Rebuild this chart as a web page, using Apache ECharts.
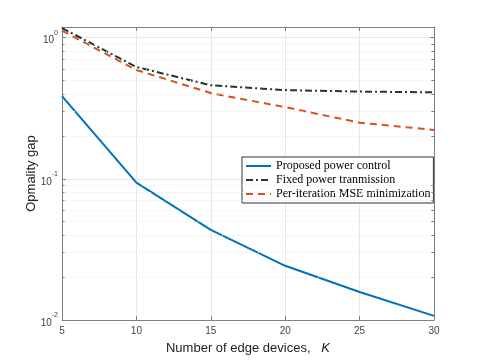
<!DOCTYPE html>
<html>
<head>
<meta charset="utf-8">
<script src="https://cdn.jsdelivr.net/npm/echarts@6/dist/echarts.min.js"></script>
<style>
  html, body { margin: 0; padding: 0; background: #fff; }
  #chart { width: 480px; height: 360px; }
</style>
</head>
<body>
<div id="chart"></div>
<script>
// data
var kValues = [5, 10, 15, 20, 25, 30];
var proposed = [0.385, 0.094, 0.0435, 0.0242, 0.0158, 0.0107];
var fixedPower = [1.17, 0.62, 0.46, 0.425, 0.415, 0.41];
var perIteration = [1.12, 0.59, 0.405, 0.322, 0.25, 0.222];
var minorLevels = [0.02, 0.03, 0.04, 0.05, 0.06, 0.07, 0.08, 0.09,
                   0.2, 0.3, 0.4, 0.5, 0.6, 0.7, 0.8, 0.9];

function pairs(ys) {
  var out = [];
  for (var i = 0; i < kValues.length; i++) out.push([kValues[i], ys[i]]);
  return out;
}

// short minor ticks on the left and right box edges (data coords)
var minorTicks = [];
minorLevels.forEach(function (v) {
  minorTicks.push([{ coord: [5, v] }, { coord: [5.17, v] }]);
  minorTicks.push([{ coord: [29.83, v] }, { coord: [30, v] }]);
});

var chart = echarts.init(document.getElementById('chart'));
var axisGray = '#7f7f7f';

var option = {
  animation: false,
  grid: { left: 62, top: 27, width: 372, height: 293, show: false },
  legend: {
    orient: 'vertical',
    left: 242,
    top: 157,
    backgroundColor: '#fff',
    borderColor: '#333',
    borderWidth: 1,
    padding: [3, 3, 3, 3],
    itemGap: 2,
    itemWidth: 25,
    itemHeight: 12,
    itemStyle: { opacity: 0 },
    textStyle: { fontFamily: 'Liberation Serif', fontSize: 12, color: '#000' },
    data: ['Proposed power control', 'Fixed power tranmission', 'Per-iteration MSE minimization']
  },
  xAxis: [{
    type: 'value',
    min: 5, max: 30, interval: 5,
    name: '{n|Number of edge devices,   }{k|K}',
    nameLocation: 'middle',
    nameGap: 22,
    nameTextStyle: {
      rich: {
        n: { fontFamily: 'Liberation Sans', fontSize: 13, color: '#222' },
        k: { fontFamily: 'Liberation Sans', fontSize: 13, fontStyle: 'italic', color: '#222' }
      }
    },
    axisLine: { lineStyle: { color: axisGray } },
    axisTick: { inside: true, length: 4, lineStyle: { color: axisGray } },
    axisLabel: { fontFamily: 'Liberation Sans', fontSize: 10, color: '#444', margin: 6 },
    splitLine: { show: true, lineStyle: { color: '#e8e8e8', width: 1 } }
  }, {
    type: 'value', position: 'top',
    min: 5, max: 30, interval: 5,
    axisLine: { lineStyle: { color: axisGray } },
    axisTick: { inside: true, length: 4, lineStyle: { color: axisGray } },
    axisLabel: { show: false },
    splitLine: { show: false }
  }],
  yAxis: [{
    type: 'log',
    logBase: 10,
    min: 0.01, max: 1.19,
    name: 'Opmality gap',
    nameLocation: 'middle',
    nameGap: 24,
    nameMoveOverlap: false,
    nameTextStyle: { fontFamily: 'Liberation Sans', fontSize: 13, color: '#222' },
    axisLine: { show: true, lineStyle: { color: axisGray } },
    axisTick: { inside: true, length: 4, lineStyle: { color: axisGray } },
    axisLabel: {
      margin: 4,
      formatter: function (v) {
        var e = Math.round(Math.log10(v));
        if (Math.abs(Math.pow(10, e) - v) > 1e-9 * v) return '';
        return '{b|10}{s|' + e + '}';
      },
      rich: {
        b: { fontFamily: 'Liberation Sans', fontSize: 10, color: '#444', verticalAlign: 'bottom', lineHeight: 16 },
        s: { fontFamily: 'Liberation Sans', fontSize: 7, color: '#444', verticalAlign: 'top', lineHeight: 16 }
      }
    },
    splitLine: { show: true, lineStyle: { color: '#e8e8e8', width: 1 } }
  }, {
    type: 'log',
    logBase: 10,
    min: 0.01, max: 1.19,
    position: 'right',
    axisLine: { show: true, lineStyle: { color: axisGray } },
    axisTick: { show: true, inside: true, length: 4, lineStyle: { color: axisGray } },
    axisLabel: { show: false },
    splitLine: { show: false }
  }],
  series: [{
    name: 'minor grid',
    type: 'line',
    data: [],
    silent: true,
    markLine: {
      silent: true,
      symbol: 'none',
      label: { show: false },
      lineStyle: { color: '#e0e0e0', type: [1, 3], width: 1 },
      data: minorLevels.map(function (v) { return { yAxis: v }; })
    }
  }, {
    name: 'minor ticks',
    type: 'line',
    data: [],
    silent: true,
    markLine: {
      silent: true,
      symbol: 'none',
      label: { show: false },
      lineStyle: { color: axisGray, type: 'solid', width: 1 },
      data: minorTicks
    }
  }, {
    name: 'Proposed power control',
    type: 'line',
    data: pairs(proposed),
    symbol: 'none',
    lineStyle: { color: '#0072BD', width: 2 },
    itemStyle: { color: '#0072BD' }
  }, {
    name: 'Fixed power tranmission',
    type: 'line',
    data: pairs(fixedPower),
    symbol: 'none',
    lineStyle: { color: '#1f3a2a', width: 2, type: [7, 3, 2, 3] },
    itemStyle: { color: '#1f3a2a' }
  }, {
    name: 'Per-iteration MSE minimization',
    type: 'line',
    data: pairs(perIteration),
    symbol: 'none',
    lineStyle: { color: '#D95319', width: 2, type: [7, 5] },
    itemStyle: { color: '#D95319' }
  }]
};

chart.setOption(option);
</script>
</body>
</html>
